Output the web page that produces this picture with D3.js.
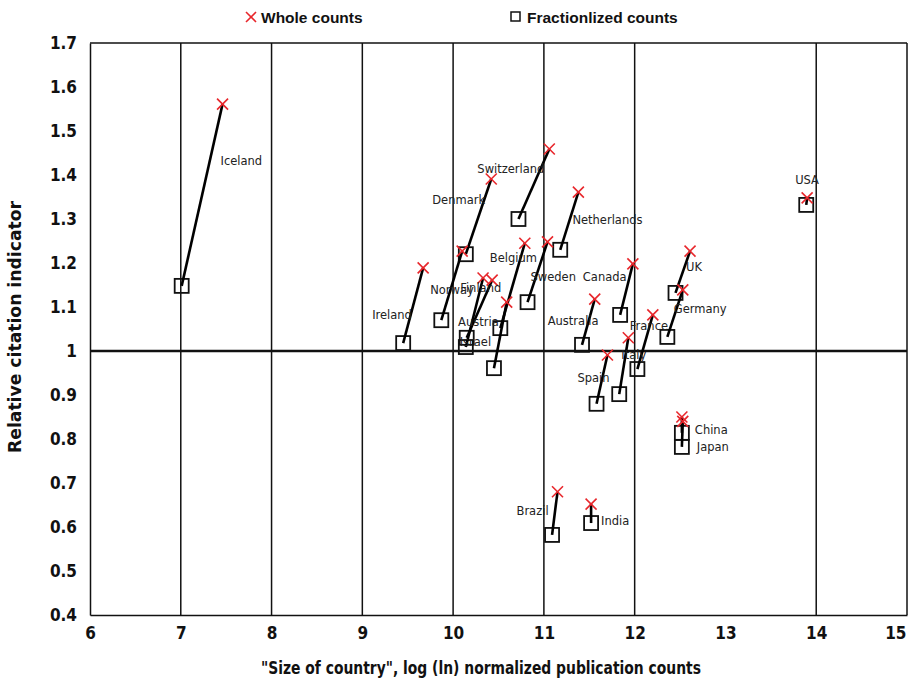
<!DOCTYPE html>
<html>
<head>
<meta charset="utf-8">
<script src="https://cdn.jsdelivr.net/npm/d3@7"></script>
<style>
  html, body { margin: 0; padding: 0; background: #fff; }
  svg { display: block; }
</style>
</head>
<body>
<svg id="chart" width="909" height="686"></svg>
<script>
// ---- data ----
const countries = ["Iceland","USA","Denmark","Switzerland","Netherlands","Belgium","Sweden","Canada",
  "Norway","Finland","Ireland","Austria","Israel","Australia","France","Germany","UK","Italy","Spain",
  "China","Japan","Brazil","India"];
const wholeSize  = [7.46,13.90,10.42,11.06,11.38,10.79,11.04,11.98,10.10,10.43,9.67,10.33,10.59,11.56,12.20,12.53,12.61,11.93,11.70,12.52,12.53,11.15,11.52];
const wholeCit   = [1.561,1.348,1.391,1.459,1.361,1.245,1.248,1.198,1.227,1.161,1.189,1.166,1.111,1.118,1.082,1.139,1.227,1.030,0.991,0.850,0.840,0.680,0.652];
const fracSize   = [7.01,13.89,10.14,10.72,11.18,10.52,10.82,11.84,9.87,10.15,9.45,10.14,10.45,11.42,12.03,12.36,12.45,11.83,11.58,12.52,12.52,11.09,11.52];
const fracCit    = [1.148,1.332,1.220,1.300,1.230,1.052,1.111,1.082,1.070,1.030,1.018,1.009,0.961,1.014,0.959,1.032,1.132,0.902,0.880,0.814,0.782,0.582,0.609];
const xTicks = [6,7,8,9,10,11,12,13,14,15];
const yTicks = [0.4,0.5,0.6,0.7,0.8,0.9,1.0,1.1,1.2,1.3,1.4,1.5,1.6,1.7];
const gridX = [7,8,9,10,11,12,14];
const legendLabels = ["Whole counts","Fractionlized counts"];
const xTitle = "\"Size of country\", log (ln) normalized publication counts";
const yTitle = "Relative citation indicator";

// ---- layout (label placement offsets in px, relative to whole-count marker) ----
const labelDx = [-2,-12,-59,-72,-6,-35,-17,-50,-32,-32,-51,-25,-47,-47,-23,-9,-4,-7,-30,13,14,-41,10];
const labelDy = [61,-14,25,24,32,19,39,17,43,12,51,48,44,26,15,23,20,21,27,17,30,23,21];

const svg = d3.select("#chart");
const L = 90, R = 907, T = 43, B = 615;
const x = d3.scaleLinear().domain([6,15]).range([L,R]);
const y = d3.scaleLinear().domain([0.4,1.7]).range([B,T]);

const tickFont = "'Liberation Sans Narrow','DejaVu Sans Condensed','Liberation Sans',Arial,sans-serif";

// gridlines
svg.append("g").selectAll("line").data(gridX).join("line")
  .attr("x1", d => x(d)).attr("x2", d => x(d)).attr("y1", T).attr("y2", B)
  .attr("stroke", "#111").attr("stroke-width", 1.5);

// frame
svg.append("line").attr("x1", L).attr("x2", R).attr("y1", T).attr("y2", T).attr("stroke","#111").attr("stroke-width",1.5);
svg.append("line").attr("x1", R).attr("x2", R).attr("y1", T).attr("y2", B).attr("stroke","#111").attr("stroke-width",1.5);

// axes
const xAxis = d3.axisBottom(x).tickValues(xTicks).tickSize(0).tickPadding(12).tickFormat(d3.format("d"));
const gx = svg.append("g").attr("transform", `translate(0,${B})`).call(xAxis);
gx.select(".domain").attr("stroke","#111").attr("stroke-width",1.5);
gx.selectAll("text").attr("font-family", tickFont).attr("font-weight","bold").attr("font-size",17).attr("fill","#111");
gx.selectAll(".tick").filter(d => d === 15).select("text").attr("text-anchor","end").attr("dx", -1);

const yAxis = d3.axisLeft(y).tickValues(yTicks).tickSize(0).tickPadding(13)
  .tickFormat(d => d === 1 ? "1" : d3.format(".1f")(d));
const gy = svg.append("g").attr("transform", `translate(${L},0)`).call(yAxis);
gy.select(".domain").attr("stroke","#111").attr("stroke-width",1.5);
gy.selectAll("text").attr("font-family", tickFont).attr("font-weight","bold").attr("font-size",17).attr("fill","#111");

// y = 1 reference line
svg.append("line").attr("x1", L).attr("x2", R).attr("y1", y(1)).attr("y2", y(1))
  .attr("stroke","#111").attr("stroke-width",2.5);

const idx = d3.range(countries.length);

// fractionalized squares
const sq = 14;
svg.append("g").selectAll("rect").data(idx).join("rect")
  .attr("x", i => x(fracSize[i]) - sq/2).attr("y", i => y(fracCit[i]) - sq/2)
  .attr("width", sq).attr("height", sq)
  .attr("fill","none").attr("stroke","#111").attr("stroke-width",1.8);

// connecting lines
svg.append("g").selectAll("line").data(idx).join("line")
  .attr("x1", i => x(wholeSize[i])).attr("y1", i => y(wholeCit[i]))
  .attr("x2", i => x(fracSize[i])).attr("y2", i => y(fracCit[i]))
  .attr("stroke","#000").attr("stroke-width",2.6);

// whole-count crosses
const xs = 5.5;
const cross = svg.append("g").selectAll("g").data(idx).join("g")
  .attr("transform", i => `translate(${x(wholeSize[i])},${y(wholeCit[i])})`);
cross.append("line").attr("x1",-xs).attr("y1",-xs).attr("x2",xs).attr("y2",xs).attr("stroke","#e8262b").attr("stroke-width",1.6);
cross.append("line").attr("x1",-xs).attr("y1",xs).attr("x2",xs).attr("y2",-xs).attr("stroke","#e8262b").attr("stroke-width",1.6);

// country labels
svg.append("g").selectAll("text").data(idx).join("text")
  .attr("x", i => x(wholeSize[i]) + labelDx[i])
  .attr("y", i => y(wholeCit[i]) + labelDy[i])
  .attr("font-family","'DejaVu Sans',Verdana,sans-serif").attr("font-size",11.5)
  .attr("fill","#222").text(i => countries[i]);

// axis titles
svg.append("text").attr("x", 481).attr("y", 674).attr("text-anchor","middle")
  .attr("font-family", tickFont).attr("font-weight","bold").attr("font-size",17.5).attr("fill","#111")
  .attr("textLength", 440).attr("lengthAdjust","spacingAndGlyphs")
  .text(xTitle);
svg.append("text").attr("transform", `translate(21,327) rotate(-90)`).attr("text-anchor","middle")
  .attr("font-family", tickFont).attr("font-weight","bold").attr("font-size",17.5).attr("fill","#111")
  .attr("textLength", 252).attr("lengthAdjust","spacingAndGlyphs")
  .text(yTitle);

// legend
const lg = svg.append("g");
const lgFont = "'Liberation Sans',Arial,sans-serif";
lg.append("line").attr("x1",246).attr("y1",12).attr("x2",256).attr("y2",22).attr("stroke","#e8262b").attr("stroke-width",1.6);
lg.append("line").attr("x1",246).attr("y1",22).attr("x2",256).attr("y2",12).attr("stroke","#e8262b").attr("stroke-width",1.6);
lg.append("text").attr("x",261).attr("y",23).attr("font-family",lgFont).attr("font-weight","bold").attr("font-size",15.5).attr("fill","#111").text(legendLabels[0]);
lg.append("rect").attr("x",511).attr("y",12).attr("width",9).attr("height",9).attr("fill","none").attr("stroke","#111").attr("stroke-width",1.5);
lg.append("text").attr("x",527).attr("y",23).attr("font-family",lgFont).attr("font-weight","bold").attr("font-size",15.5).attr("fill","#111").text(legendLabels[1]);
</script>
</body>
</html>
